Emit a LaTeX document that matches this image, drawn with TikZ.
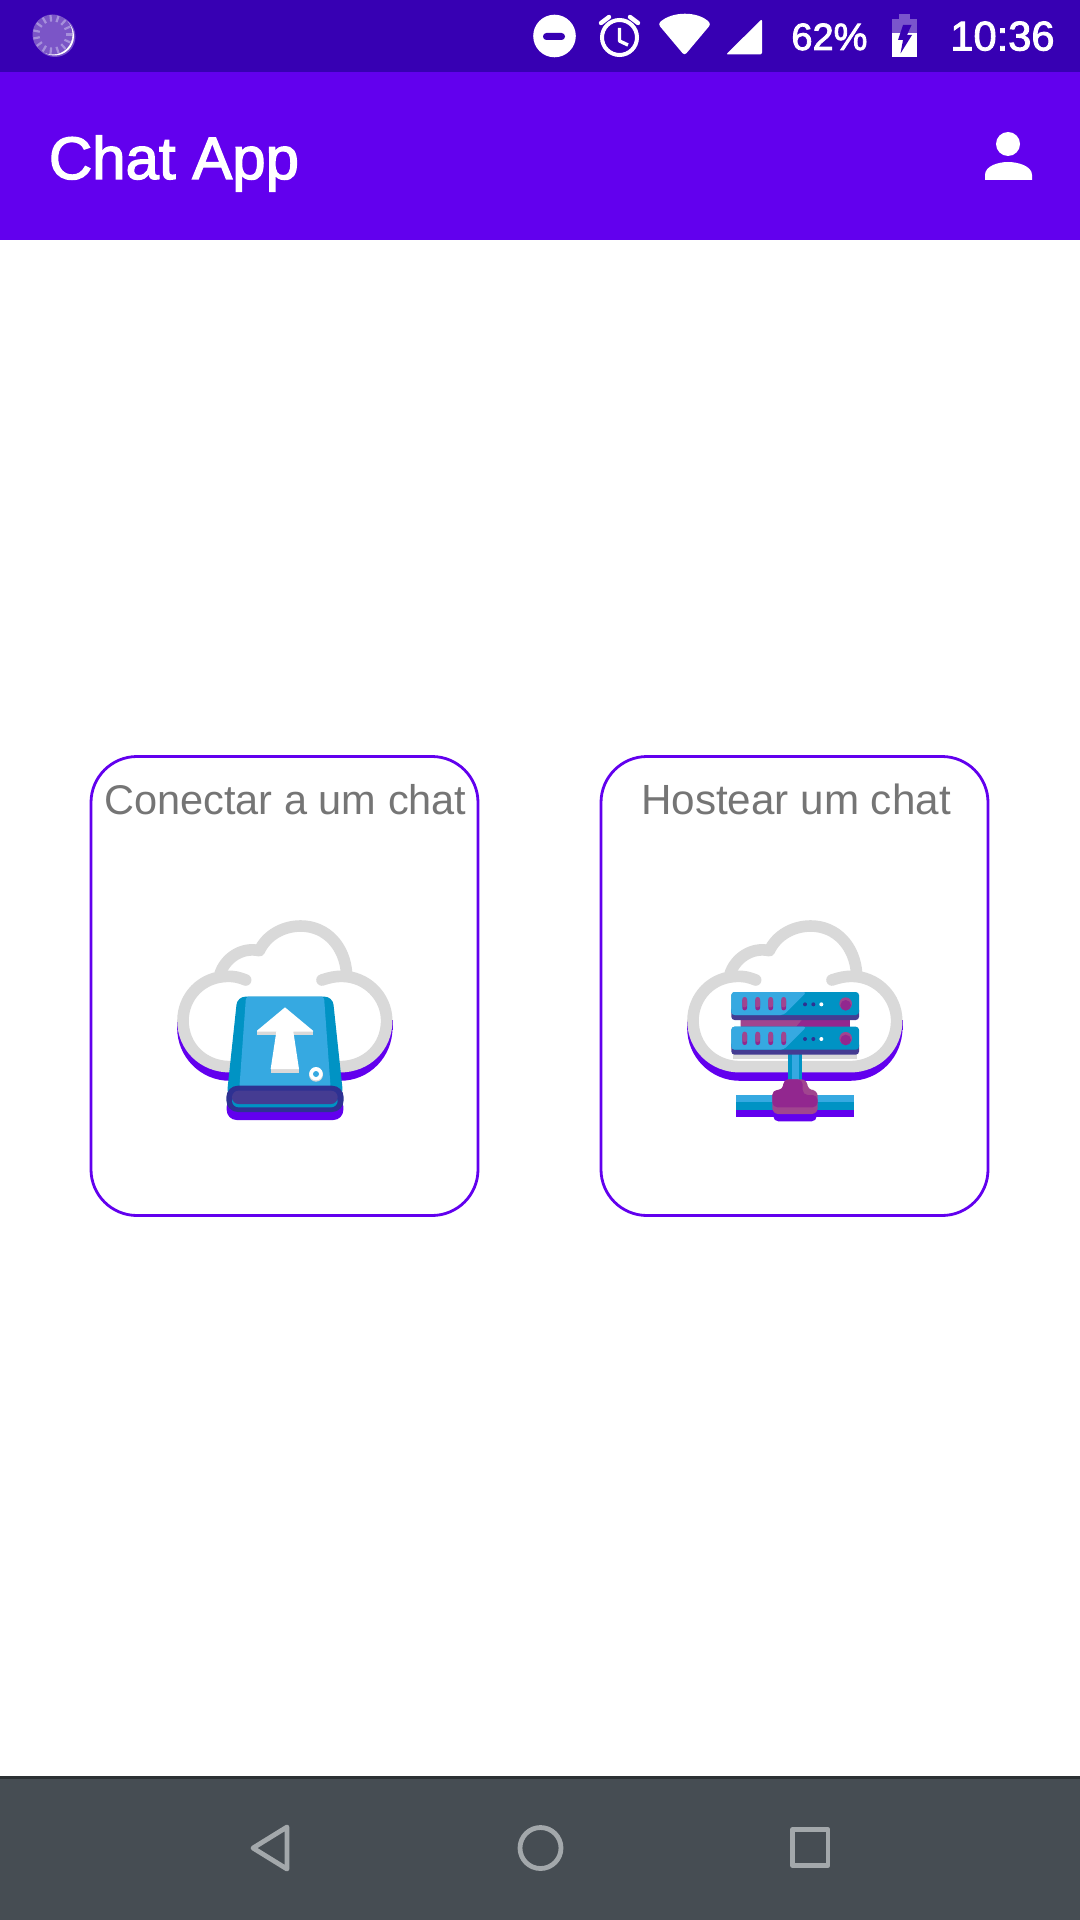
\documentclass[tikz,border=0pt]{standalone}
\usepackage{fontspec}
\usetikzlibrary{calc}
\setmainfont{Liberation Sans}
\newfontfamily\medfont[FakeBold=2.2]{Liberation Sans}
\definecolor{statusbar}{HTML}{3700B3}
\definecolor{appbar}{HTML}{6200EE}
\definecolor{navbar}{HTML}{464D53}
\definecolor{navline}{HTML}{2B3033}
\definecolor{navicon}{HTML}{A3A8AB}
\definecolor{labelgray}{HTML}{757575}
\definecolor{cloudgray}{HTML}{D9D9D9}
\definecolor{lightblue}{HTML}{36A9E1}
\definecolor{darkblue}{HTML}{0093C4}
\definecolor{navyp}{HTML}{2E3192}
\definecolor{slate}{HTML}{453C92}
\definecolor{magenta1}{HTML}{92278F}
\definecolor{magenta2}{HTML}{A0458F}
\definecolor{spin}{HTML}{7B55C7}
\definecolor{spintick}{HTML}{A690DB}
\definecolor{batlight}{HTML}{7A55CC}
\tikzset{
  cardbox/.style={draw=appbar,line width=1.4pt,rounded corners=23pt,fill=white,minimum width=193.5pt,minimum height=229.5pt,inner sep=0pt},
  cardlabel/.style={anchor=base,text=labelgray,inner sep=0pt},
  statustext/.style={anchor=base west,text=white,inner sep=0pt},
  titletext/.style={anchor=base west,text=white,inner sep=0pt,font=\medfont\fontsize{30pt}{34pt}\selectfont},
  navstroke/.style={draw=navicon,line width=2.4pt,line join=round},
  cloudstroke/.style={line width=5.8pt,line join=round}
}
\newcommand{\cloudicon}{%
  \draw[appbar,cloudstroke] (69,385) .. controls (69,460) and (130,525) .. (210,525) -- (540,525) .. controls (620,525) and (680,460) .. (680,385);
  \fill[appbar] (52,360) rectangle (87,390);
  \fill[appbar] (663,360) rectangle (698,390);
  \draw[cloudgray,cloudstroke,line cap=round] (257,240) .. controls (235,231) and (222,229) .. (205,229) .. controls (125,229) and (69,290) .. (69,362) .. controls (69,440) and (130,500) .. (210,500) -- (540,500) .. controls (620,500) and (680,440) .. (680,362) .. controls (680,290) and (620,229) .. (545,229) .. controls (525,229) and (510,232) .. (486,240);
  \draw[cloudgray,cloudstroke] (180,222) .. controls (195,175) and (245,140) .. (298,152) .. controls (320,105) and (370,78) .. (422,78) .. controls (500,78) and (555,140) .. (560,222);
}
\begin{document}
\begin{tikzpicture}[x=0.5pt,y=-0.5pt]
\useasboundingbox (0,0) rectangle (1080,1920);
\fill[white] (0,0) rectangle (1080,1920);
% bars
\fill[statusbar] (0,0) rectangle (1080,72);
\fill[appbar] (0,72) rectangle (1080,240);
\fill[navbar] (0,1776) rectangle (1080,1920);
\fill[navline] (0,1776) rectangle (1080,1779);
% spinner
\fill[white,opacity=.3] (55,36.5) circle (20.5);
\fill[white] (54.5,36) circle (19.5);
\fill[spin] (52.5,34.5) circle (20);
\foreach \a in {0,24,...,336} \draw[spintick,line width=1.1pt] ($(52.5,34.5)+(\a:13)$) -- ($(52.5,34.5)+(\a:19.5)$);
% status icons
\fill[white] (554.5,36) circle (21.3);
\fill[statusbar,rounded corners=1.7pt] (543,33) rectangle (565,40);
\draw[white,line width=2pt] (619.5,37.5) circle (17.5);
\draw[white,line width=1.7pt,line join=round] (619.5,28) -- (619.5,41) -- (628,45);
\draw[white,line width=2.2pt,line cap=round] (601,23) -- (609,17);
\draw[white,line width=2.2pt,line cap=round] (638,23) -- (630,17);
\fill[white,rounded corners=1.5pt] (684.5,55.5) -- (658,24) .. controls (672,11) and (698,11) .. (711,24) -- cycle;
\fill[white,rounded corners=1pt] (726,54.5) -- (762,19) -- (762,54.5) -- cycle;
\node[statustext,font=\medfont\fontsize{19pt}{22pt}\selectfont] (pct) at (791,50) {62\%};
\fill[batlight] (899,14) rectangle (910,20);
\fill[batlight] (892,19) rectangle (917,33);
\fill[white] (892,33) rectangle (917,57.5);
\fill[statusbar] (903,25) -- (911.5,25) -- (907,35) -- (912,35) -- (900.5,53.5) -- (903,40) -- (898,40) -- cycle;
\node[statustext,font=\medfont\fontsize{20.8pt}{24pt}\selectfont] (clock) at (950,50.5) {10:36};
% app bar
\node[titletext] (title) at (48.5,179) {Chat App};
\fill[white] (1008,144) circle (12);
\fill[white] (985,180) -- (985,175) .. controls (985,166) and (998,162) .. (1008,162) .. controls (1018,162) and (1032,166) .. (1032,175) -- (1032,180) -- cycle;
% cards
\node[cardbox] (cardA) at (284.5,986) {};
\node[cardbox] (cardB) at (794.5,986) {};
\node[cardlabel,font=\fontsize{20.75pt}{24pt}\selectfont] (labelA) at (285.5,814) {Conectar a um chat};
\node[cardlabel,font=\fontsize{21.1pt}{24pt}\selectfont] (labelB) at (796,814) {Hostear um chat};
% drive icon
\begin{scope}[shift={(160,900)},scale=1/3]
  \cloudicon
  \fill[appbar,rounded corners=5pt] (200,590) rectangle (550,660);
  \fill[darkblue,rounded corners=4pt] (232,290) -- (518,290) -- (550,590) -- (200,590) -- cycle;
  \fill[lightblue,rounded corners=1pt] (258,290) -- (492,290) -- (512,565) -- (238,565) -- cycle;
  \fill[cloudgray] (291,392) rectangle (459,405);
  \fill[cloudgray] (332,507) rectangle (417,518);
  \fill[white] (375,322) -- (459,392) -- (459,395) -- (400,395) -- (417,507) -- (332,507) -- (349,395) -- (291,395) -- (291,392) -- cycle;
  \fill[cloudgray] (468,524) circle (21);
  \fill[white] (468,521) circle (20);
  \fill[lightblue] (468,522) circle (9);
  \fill[navyp,rounded corners=5.8pt] (199,557) rectangle (551,636);
  \fill[darkblue,rounded corners=3.3pt] (216,585) rectangle (533,622);
  \fill[slate,rounded corners=3.3pt] (216,572) rectangle (533,612);
\end{scope}
% server icon
\begin{scope}[shift={(670,900)},scale=1/3]
  \cloudicon
  \fill[cloudgray] (190,460) rectangle (560,476);
  \fill[darkblue] (353,463) rectangle (397,548);
  \fill[lightblue] (365,463) rectangle (388,548);
  \fill[appbar] (198,620) rectangle (552,652);
  \fill[darkblue] (198,600) rectangle (552,629);
  \fill[lightblue] (198,585) rectangle (552,607);
  \fill[appbar,rounded corners=2.5pt] (310,625) rectangle (440,664);
  \fill[magenta2,rounded corners=3pt] (340,570) -- (340,538) -- (412,538) -- (412,570) -- (443,570) -- (443,642) -- (307,642) -- (307,570) -- cycle;
  \fill[magenta1,rounded corners=2.5pt] (340,570) -- (340,538) -- (398,538) -- (398,585) -- (443,585) -- (443,622) -- (307,622) -- (307,570) -- cycle;
  \fill[magenta1] (212,360) rectangle (540,380);
  \fill[magenta2] (212,360) -- (395,360) -- (378,380) -- (212,380) -- cycle;
  \foreach \dy in {0,104} {
    \fill[slate,rounded corners=1.6pt] (184,320+\dy) rectangle (567,360+\dy);
    \fill[darkblue,rounded corners=1.6pt] (184,276+\dy) rectangle (567,345+\dy);
    \fill[lightblue,rounded corners=1.6pt] (184,276+\dy) -- (410,276+\dy) -- (341,345+\dy) -- (184,345+\dy) -- cycle;
    \foreach \sx in {224,263,302,341} {
      \fill[magenta1,rounded corners=1.1pt] (\sx-7,295+\dy) rectangle (\sx+7,331+\dy);
      \fill[magenta2,rounded corners=1.1pt] (\sx-7,291+\dy) rectangle (\sx+7,322+\dy);
    }
    \fill[navyp] (405,313+\dy) circle (6);
    \fill[navyp] (430,313+\dy) circle (6);
    \fill[white] (454,313+\dy) circle (6);
    \fill[magenta2] (527,311+\dy) circle (19);
    \fill[magenta1] (527,316+\dy) circle (16);
  }
\end{scope}
% nav icons
\draw[navstroke] (287,1827) -- (287,1869) -- (253,1848) -- cycle;
\draw[navstroke] (540.5,1848) circle (20.5);
\draw[navstroke] (792.5,1829.5) rectangle (828,1865.5);
\end{tikzpicture}
\end{document}
